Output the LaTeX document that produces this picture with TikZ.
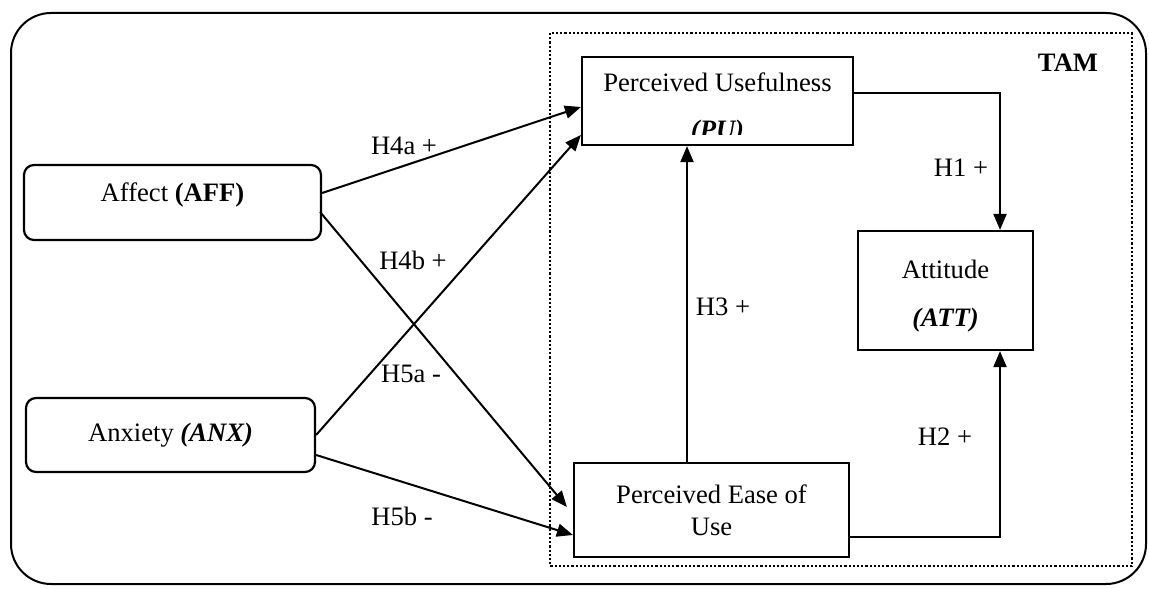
\documentclass[tikz,border=0pt]{standalone}
\usepackage{fontspec}
\setmainfont{Liberation Serif}
\usetikzlibrary{positioning, calc, arrows.meta}

\begin{document}
\begin{tikzpicture}[>={Triangle[length=8pt, width=6.5pt]}, x=0.5pt, y=-0.5pt,
	font=\fontsize{13.3}{16}\selectfont,
	box/.style={draw, line width=1.1pt, inner sep=0pt},
	rbox/.style={box, rounded corners=5pt},
	link/.style={line width=1pt, ->},
	hyp/.style={inner sep=0pt}]
	\useasboundingbox (0, 0) rectangle (1149, 588);
	\draw[line width=1pt, rounded corners=20pt] (11, 13) rectangle (1146, 584);
	\draw[line width=1.1pt, dash pattern=on 1.1pt off 1pt] (550, 33) rectangle (1132, 566);
	\node[hyp] (tam) at (1068, 63) {\bfseries TAM};
	% constructs
	\node[box, minimum width=135.5pt, minimum height=44pt] (pu) at (717.5, 101) {};
	\begin{scope}
		\clip (pu.north west) rectangle ($(pu.south east)+(0,-12)$);
		\node[hyp, align=center] (putext) at (717.5, 108) {Perceived Usefulness\\[7.5pt]\textbf{\textit{(PU)}}};
	\end{scope}
	\node[box, minimum width=87.5pt, minimum height=59.5pt] (att) at (945.5, 290.5) {};
	\node[hyp, align=center] (atttext) at (945.5, 296) {Attitude\\[8pt]\textbf{\textit{(ATT)}}};
	\node[box, align=center, minimum width=137.5pt, minimum height=47pt] (peou) at (711.5, 510) {Perceived Ease of\\Use};
	\node[rbox, minimum width=148.5pt, minimum height=37.5pt, text height=9pt, text depth=10pt] (aff) at (172.5, 202.5) {Affect \textbf{(AFF)}};
	\node[rbox, minimum width=144.5pt, minimum height=37pt] (anx) at (170.5, 435) {Anxiety \textbf{\textit{(ANX)}}};
	% hypotheses
	\draw[link] ($(aff.east)+(0,-9.5)$) -- ($(pu.west)+(0,6)$);
	\draw[link] ($(aff.east)+(-2,9.5)$) -- ($(peou.west)+(-6,-3)$);
	\draw[link] (anx.east) -- ($(pu.west)+(0,34)$);
	\draw[link] ($(anx.east)+(0,20)$) -- ($(peou.west)+(0,25)$);
	\draw[link] ($(peou.north)+(-24.5,0)$) -- ($(pu.south)+(-30.5,0)$);
	\draw[link] ($(pu.east)+(0,-8)$) -| ($(att.north)+(54.5,0)$);
	\draw[link] ($(peou.east)+(0,27)$) -| ($(att.south)+(54.5,0)$);
	\node[hyp] (h4a) at (404, 146) {H4a +};
	\node[hyp] (h4b) at (413, 260) {H4b +};
	\node[hyp] (h5a) at (411, 374) {H5a -};
	\node[hyp] (h5b) at (402, 516) {H5b -};
	\node[hyp] (h3) at (723, 307) {H3 +};
	\node[hyp] (h1) at (961, 168) {H1 +};
	\node[hyp] (h2) at (945, 437) {H2 +};
\end{tikzpicture}
\end{document}
